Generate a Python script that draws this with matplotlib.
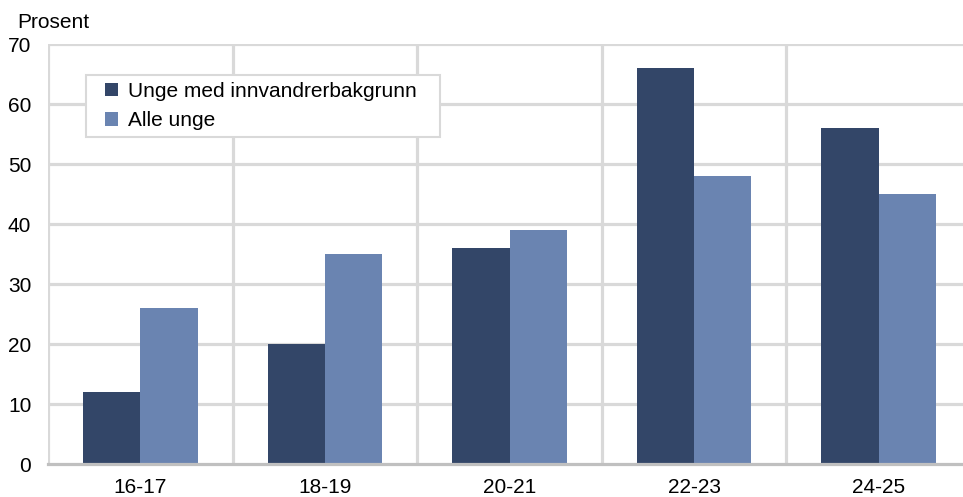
import numpy as np
import matplotlib
matplotlib.use('Agg')
import matplotlib.pyplot as plt
from matplotlib.patches import Rectangle

plt.rcParams['font.family'] = ['Liberation Sans', 'DejaVu Sans']

categories = ['16-17', '18-19', '20-21', '22-23', '24-25']
innvandrer = [12, 20, 36, 66, 56]
alle = [26, 35, 39, 48, 45]
series_names = ['Unge med innvandrerbakgrunn', 'Alle unge']

dark = '#334668'
light = '#6a84b1'
grid = '#d9d9d9'
fs = 15

fig = plt.figure(figsize=(9.63, 4.97), dpi=100)
ax = fig.add_axes([48 / 963, (497 - 464) / 497, 923 / 963, 420 / 497])

x = np.arange(len(categories))
w = 0.31
ax.bar(x - w / 2, innvandrer, w, color=dark, label=series_names[0], zorder=3)
ax.bar(x + w / 2, alle, w, color=light, label=series_names[1], zorder=3)

ax.set_xlim(-0.5, len(categories) - 0.5)
ax.set_ylim(0, 70)
ax.set_yticks(range(0, 71, 10))
ax.set_xticks(x)
ax.set_xticklabels(categories)

for b in np.arange(-0.5, len(categories), 1.0):
    ax.axvline(b, color=grid, lw=2.3, zorder=1)
for yv in range(10, 71, 10):
    ax.axhline(yv, color=grid, lw=2.3, zorder=1)

for s in ['top', 'right', 'left']:
    ax.spines[s].set_visible(False)
ax.spines['bottom'].set_color('#c0c0c0')
ax.spines['bottom'].set_linewidth(2.3)
ax.spines['bottom'].set_zorder(4)
ax.tick_params(axis='both', length=0, labelsize=fs, colors='black')
ax.tick_params(axis='y', pad=12)
ax.tick_params(axis='x', pad=10)

# legend box drawn separately so the entries can sit further in
box = Rectangle((0.041, 0.7786), 0.3835, 0.1474, transform=ax.transAxes,
                facecolor='white', edgecolor=grid, lw=1.5, zorder=5)
ax.add_patch(box)
leg = ax.legend(loc='center left', bbox_to_anchor=(0.062, 0.852), fontsize=fs,
                frameon=False, handlelength=0.6, handleheight=0.6,
                handletextpad=0.5, borderpad=0, labelspacing=0.5,
                borderaxespad=0)
leg.set_zorder(6)

fig.text(17 / 963, 1 - 22 / 497, 'Prosent', fontsize=fs, va='center', ha='left')

fig.savefig('out.png', dpi=100)
